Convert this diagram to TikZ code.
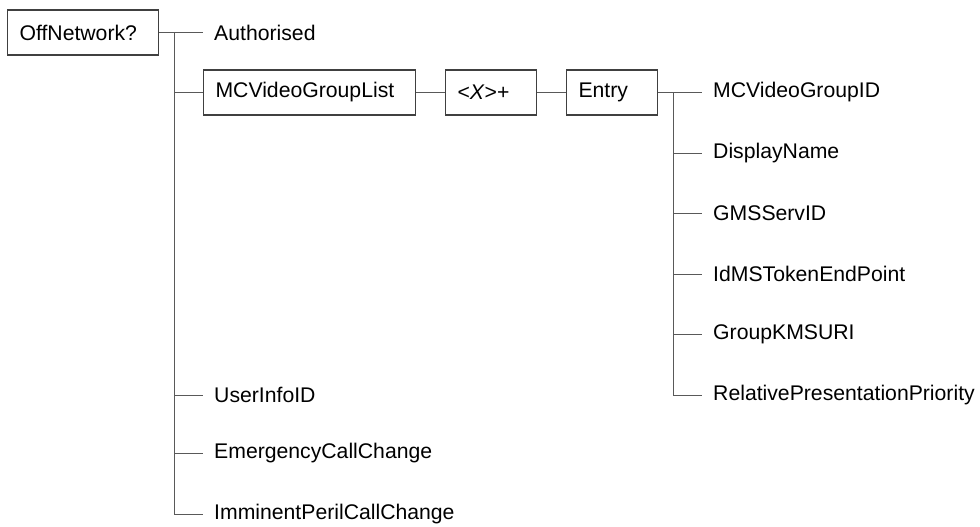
\documentclass[tikz,border=0pt]{standalone}
\usepackage{fontspec}
\setmainfont{Liberation Sans}
\begin{document}
\begin{tikzpicture}[x=1pt,y=-1pt,
  every node/.style={font=\fontsize{21.2}{25}\selectfont},
  box/.style={draw=black!75,line width=1.1pt,anchor=west,align=left,inner xsep=12pt,inner ysep=0pt,minimum height=45pt},
  leaf/.style={anchor=west,inner xsep=11pt,inner ysep=0pt},
  conn/.style={draw=black!65,line width=1pt}]
\useasboundingbox (0,0) rectangle (980,527);
% boxes
\node[box,text width=127pt] (off) at (7,32.5) {OffNetwork?};
\node[box,text width=188pt] (mcv) at (203,92.5) {MCVideoGroupList};
\node[box,text width=67pt] (xp) at (445,92.5) {<\textit{X}>+};
\node[box,text width=67pt] (entry) at (566,92.5) {Entry};
% left leaves
\node[leaf] (auth) at (203,32.5) {Authorised};
\node[leaf] (uid) at (203,395) {UserInfoID};
\node[leaf] (emc) at (203,453.5) {EmergencyCallChange};
\node[leaf] (imm) at (203,514.5) {ImminentPerilCallChange};
% right leaves
\node[leaf] (gid) at (702,92.5) {MCVideoGroupID};
\node[leaf] (dn) at (702,153) {DisplayName};
\node[leaf] (gms) at (702,213.5) {GMSServID};
\node[leaf] (idms) at (702,274) {IdMSTokenEndPoint};
\node[leaf] (kms) at (702,334.5) {GroupKMSURI};
\node[leaf] (rpp) at (702,395) {RelativePresentationPriority};
% trunks
\coordinate (t1) at (174,32.5);
\coordinate (t2) at (673,92.5);
% connectors
\draw[conn] (off.east) -- (t1) -- (auth.west);
\draw[conn] (t1) |- (imm.west);
\draw[conn] (t1 |- mcv.west) -- (mcv.west);
\draw[conn] (t1 |- uid.west) -- (uid.west);
\draw[conn] (t1 |- emc.west) -- (emc.west);
\draw[conn] (mcv.east) -- (xp.west);
\draw[conn] (xp.east) -- (entry.west);
\draw[conn] (entry.east) -- (t2) -- (gid.west);
\draw[conn] (t2) |- (rpp.west);
\draw[conn] (t2 |- dn.west) -- (dn.west);
\draw[conn] (t2 |- gms.west) -- (gms.west);
\draw[conn] (t2 |- idms.west) -- (idms.west);
\draw[conn] (t2 |- kms.west) -- (kms.west);
\end{tikzpicture}
\end{document}
